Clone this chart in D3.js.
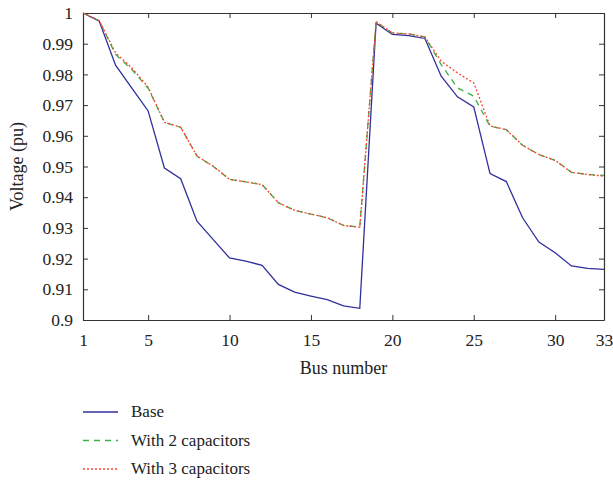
<!DOCTYPE html>
<html>
<head>
<meta charset="utf-8">
<script src="https://cdn.jsdelivr.net/npm/d3@7"></script>
<style>
  body { margin: 0; background: #fff; }
  text { font-family: "Liberation Serif", "Times New Roman", serif; fill: #222; }
</style>
</head>
<body>
<div id="chart"></div>
<script>
// bus numbers 1..33
var buses = d3.range(1, 34);

var base = [1.0, 0.9973, 0.9830, 0.9755, 0.9681, 0.9495, 0.9460, 0.9322, 0.9262, 0.9202,
   0.9192, 0.9178, 0.9116, 0.9091, 0.9078, 0.9066, 0.9046, 0.9038, 0.9967, 0.9930,
   0.9926, 0.9917, 0.9794, 0.9727, 0.9694, 0.9477, 0.9451, 0.9333, 0.9254, 0.9219,
   0.9176, 0.9168, 0.9165];

var cap2 = [1.0, 0.9975, 0.9865, 0.9816, 0.9755, 0.9644, 0.9628, 0.9534, 0.9500, 0.9458,
   0.9450, 0.9441, 0.9382, 0.9357, 0.9345, 0.9333, 0.9308, 0.9303, 0.9971, 0.9935,
   0.9932, 0.9922, 0.9832, 0.9756, 0.9729, 0.9631, 0.9620, 0.9569, 0.9539, 0.9520,
   0.9481, 0.9474, 0.9471];

var cap3 = [1.0, 0.9975, 0.9870, 0.9821, 0.9759, 0.9644, 0.9628, 0.9534, 0.9501, 0.9458,
   0.9450, 0.9441, 0.9382, 0.9357, 0.9345, 0.9333, 0.9308, 0.9302, 0.9972, 0.9935,
   0.9932, 0.9922, 0.9843, 0.9805, 0.9772, 0.9632, 0.9620, 0.9569, 0.9539, 0.9520,
   0.9481, 0.9474, 0.9468];

var xTicks = [1, 5, 10, 15, 20, 25, 30, 33];
var yTicks = d3.range(0, 11).map(function(i) { return 0.9 + i * 0.01; });

var series = [
   { name: 'Base', values: base, color: '#30309c', dash: null },
   { name: 'With 2 capacitors', values: cap2, color: '#3cb043', dash: '6,5' },
   { name: 'With 3 capacitors', values: cap3, color: '#ff4130', dash: '2,2' }
];

var width = 613, height = 480;
var margin = { top: 13, right: 9, bottom: 160, left: 83 };
var innerW = width - margin.left - margin.right;
var innerH = height - margin.top - margin.bottom;

var svg = d3.select('#chart').append('svg')
   .attr('width', width)
   .attr('height', height);

var x = d3.scaleLinear().domain([1, 33]).range([0, innerW]);
var y = d3.scaleLinear().domain([0.9, 1]).range([innerH, 0]);

var g = svg.append('g')
   .attr('transform', 'translate(' + margin.left + ',' + margin.top + ')');

var fmtY = function(d) { return d3.format('.2~f')(d); };

// axes with inward ticks on all four sides
var bottomAxis = g.append('g')
   .attr('transform', 'translate(0,' + innerH + ')')
   .call(d3.axisBottom(x).tickValues(xTicks).tickSizeInner(-5).tickSizeOuter(0).tickPadding(14));
var topAxis = g.append('g')
   .call(d3.axisTop(x).tickValues(xTicks).tickSizeInner(-5).tickSizeOuter(0).tickFormat(''));
var leftAxis = g.append('g')
   .call(d3.axisLeft(y).tickValues(yTicks).tickSizeInner(-5).tickSizeOuter(0).tickPadding(10).tickFormat(fmtY));
var rightAxis = g.append('g')
   .attr('transform', 'translate(' + innerW + ',0)')
   .call(d3.axisRight(y).tickValues(yTicks).tickSizeInner(-5).tickSizeOuter(0).tickFormat(''));

[bottomAxis, topAxis, leftAxis, rightAxis].forEach(function(a) {
   a.selectAll('path.domain').attr('stroke', '#333').attr('stroke-width', 1.2);
   a.selectAll('.tick line').attr('stroke', '#333');
   a.selectAll('.tick text')
      .style('font-family', '"Liberation Serif", serif')
      .style('font-size', '17.5px')
      .attr('fill', '#222');
});

var line = d3.line()
   .x(function(d, i) { return x(buses[i]); })
   .y(function(d) { return y(d); });

// draw base first, then the capacitor cases on top
series.forEach(function(s) {
   g.append('path')
      .datum(s.values)
      .attr('fill', 'none')
      .attr('stroke', s.color)
      .attr('stroke-width', 1.3)
      .attr('stroke-dasharray', s.dash)
      .attr('d', line);
});

// axis titles
svg.append('text')
   .attr('x', margin.left + innerW / 2)
   .attr('y', 374)
   .attr('text-anchor', 'middle')
   .style('font-size', '18px')
   .text('Bus number');

svg.append('text')
   .attr('transform', 'translate(23,' + (margin.top + innerH / 2) + ') rotate(-90)')
   .attr('text-anchor', 'middle')
   .style('font-size', '18px')
   .text('Voltage (pu)');

// legend
var legend = svg.append('g')
   .attr('transform', 'translate(83,412)');

var item = legend.selectAll('g')
   .data(series)
   .enter().append('g')
   .attr('transform', function(d, i) { return 'translate(0,' + (i * 28.5) + ')'; });

item.append('line')
   .attr('x1', 0).attr('x2', 35)
   .attr('stroke', function(d) { return d.color; })
   .attr('stroke-width', 1.3)
   .attr('stroke-dasharray', function(d) { return d.dash; });

item.append('text')
   .attr('x', 48)
   .attr('dy', '0.32em')
   .style('font-size', '17px')
   .text(function(d) { return d.name; });
</script>
</body>
</html>
